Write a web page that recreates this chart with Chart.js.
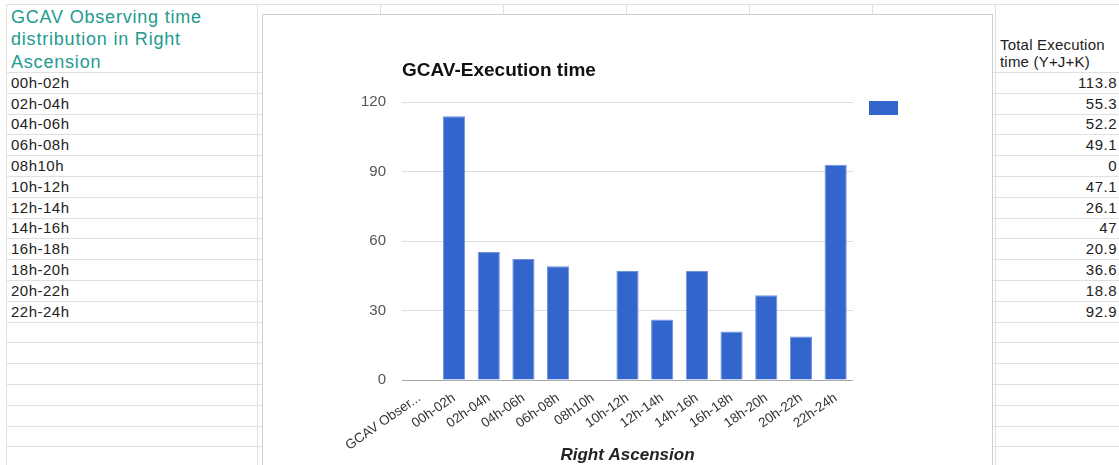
<!DOCTYPE html>
<html>
<head>
<meta charset="utf-8">
<script src="https://cdn.jsdelivr.net/npm/chart.js@4/dist/chart.umd.min.js"></script>
<style>
  html, body { margin: 0; padding: 0; background: #fff; }
  body { width: 1119px; height: 465px; overflow: hidden; position: relative; font-family: Arial, "Liberation Sans", sans-serif; }
  .cell { position: absolute; box-sizing: border-box; border-right: 1px solid #e0e0e0; border-bottom: 1px solid #e0e0e0; color: #222; font-size: 15px; letter-spacing: 0.5px; white-space: nowrap; overflow: hidden; }
  .txt { position: absolute; left: 4px; bottom: 2px; }
  .num { position: absolute; right: 4px; bottom: 2px; }
  #head .txt { color: #229a8f; font-size: 18px; line-height: 22.5px; letter-spacing: 0.8px; white-space: normal; right: 2px; bottom: -1px; }
  #valHead .txt { font-size: 15px; line-height: 17px; letter-spacing: 0.2px; white-space: normal; right: 2px; bottom: 2px; }
  #chartBox { position: absolute; left: 262px; top: 14px; width: 731px; height: 470px; box-sizing: border-box; border: 1px solid #cfcfcf; background: #fff; }
  #chart { position: absolute; left: 0; top: 0; }
</style>
</head>
<body>
<div id="sheet"></div>
<div id="chartBox"><canvas id="chart" width="729" height="453"></canvas></div>
<script>
// sheet contents
const headerTitle = 'GCAV Observing time distribution in Right Ascension';
const valueHeader = 'Total Execution time (Y+J+K)';
const raBins = ['00h-02h', '02h-04h', '04h-06h', '06h-08h', '08h10h', '10h-12h',
                '12h-14h', '14h-16h', '16h-18h', '18h-20h', '20h-22h', '22h-24h'];
const execTime = [113.8, 55.3, 52.2, 49.1, 0, 47.1, 26.1, 47, 20.9, 36.6, 18.8, 92.9];

// chart texts
const chartTitle = 'GCAV-Execution time';
const xAxisTitle = 'Right Ascension';
const yTicks = [0, 30, 60, 90, 120];

// grid layout of the sheet behind the chart
const colEdges = [7, 258, 381, 504, 627, 750, 873, 996, 1122];
const headTop = 5, headBottom = 73, rowH = 20.8;

const sheet = document.getElementById('sheet');
sheet.style.cssText = 'position:absolute;left:0;top:0;width:1119px;height:465px;';

function addCell(x0, y0, x1, y1, text, cls, id) {
    const d = document.createElement('div');
    d.className = 'cell';
    if (id) d.id = id;
    d.style.left = x0 + 'px';
    d.style.top = y0 + 'px';
    d.style.width = (x1 - x0) + 'px';
    d.style.height = (y1 - y0) + 'px';
    if (text !== '') {
        const s = document.createElement('span');
        s.className = cls;
        s.textContent = text;
        d.appendChild(s);
    }
    sheet.appendChild(d);
}

// outer top/left border of the sheet
const edge = document.createElement('div');
edge.style.cssText = 'position:absolute;left:6px;top:' + (headTop - 1) + 'px;width:1120px;height:470px;border-left:1px solid #e0e0e0;border-top:1px solid #e0e0e0;';
sheet.appendChild(edge);

for (let c = 0; c < colEdges.length - 1; c++) {
    const x0 = colEdges[c], x1 = colEdges[c + 1];
    const last = c === colEdges.length - 2;
    let txt = '', id = null;
    if (c === 0) { txt = headerTitle; id = 'head'; }
    if (last) { txt = valueHeader; id = 'valHead'; }
    addCell(x0, headTop, x1, headBottom, txt, 'txt', id);
    for (let r = 0; r < 19; r++) {
        const y0 = Math.round(headBottom + r * rowH), y1 = Math.round(headBottom + (r + 1) * rowH);
        let t = '', k = 'txt';
        if (r < raBins.length) {
            if (c === 0) t = raBins[r];
            if (last) { t = String(execTime[r]); k = 'num'; }
        }
        addCell(x0, y0, x1, y1, t, k);
    }
}

// title + legend swatch drawn relative to the plot area
const sheetChartDecor = {
    id: 'sheetChartDecor',
    afterDraw(chart) {
        const ctx = chart.ctx, area = chart.chartArea;
        ctx.save();
        ctx.fillStyle = '#111';
        ctx.font = 'bold 19px Arial, "Liberation Sans", sans-serif';
        ctx.textBaseline = 'alphabetic';
        ctx.textAlign = 'left';
        ctx.fillText(chartTitle, area.left, 61);
        ctx.fillStyle = chart.data.datasets[0].backgroundColor;
        ctx.fillRect(area.right + 16, area.top - 1, 29, 14);
        ctx.restore();
    }
};

const labels = [headerTitle].concat(raBins);
const values = [null].concat(execTime);

new Chart(document.getElementById('chart'), {
    type: 'bar',
    data: {
        labels: labels,
        datasets: [{
            label: valueHeader,
            data: values,
            backgroundColor: '#3366cc',
            borderColor: '#6f93dc',
            borderWidth: 1,
            categoryPercentage: 0.8,
            barPercentage: 0.8
        }]
    },
    options: {
        responsive: false,
        animation: false,
        devicePixelRatio: 1,
        layout: { padding: { left: 0, right: 139, top: 87, bottom: 0 } },
        plugins: {
            legend: { display: false },
            tooltip: { enabled: false }
        },
        scales: {
            x: {
                grid: { display: false },
                border: { display: false },
                ticks: {
                    color: '#333',
                    font: { size: 13.5, family: 'Arial, "Liberation Sans", sans-serif' },
                    minRotation: 35,
                    maxRotation: 35,
                    autoSkip: false,
                    padding: 2,
                    callback: function(value) {
                        const s = this.getLabelForValue(value);
                        return s.length > 10 ? s.slice(0, 10) + '...' : s;
                    }
                },
                title: {
                    display: true,
                    text: xAxisTitle,
                    color: '#222',
                    font: { size: 17, weight: 'bold', style: 'italic', family: 'Arial, "Liberation Sans", sans-serif' },
                    padding: { top: 0, bottom: 2 }
                },
                afterFit: function(scale) { scale.height = 88; }
            },
            y: {
                min: 0,
                max: 120,
                afterBuildTicks: function(scale) { scale.ticks = yTicks.map(v => ({ value: v })); },
                grid: {
                    drawTicks: false,
                    color: ctx => ctx.tick && ctx.tick.value === 0 ? '#a8a8a8' : '#dcdcdc'
                },
                border: { display: false },
                ticks: {
                    color: '#555',
                    padding: 16,
                    font: { size: 15, family: 'Arial, "Liberation Sans", sans-serif' }
                },
                afterFit: function(scale) { scale.width = 139; }
            }
        }
    },
    plugins: [sheetChartDecor]
});
</script>
</body>
</html>
